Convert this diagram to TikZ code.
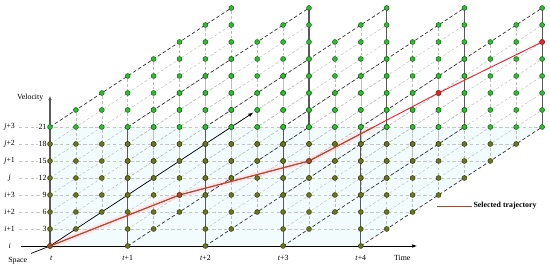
\documentclass[tikz,border=0pt]{standalone}
\usepackage{fontspec}
\setmainfont{Liberation Serif}
\usepackage{tikz}
\usetikzlibrary{arrows.meta}
\definecolor{dotgreen}{RGB}{45,190,45}
\definecolor{dotgreenline}{RGB}{25,100,25}
\definecolor{dotolive}{RGB}{105,120,30}
\definecolor{dotoliveline}{RGB}{55,65,15}
\definecolor{trajred}{RGB}{235,35,45}
\definecolor{trajbrown}{RGB}{165,80,40}
\definecolor{frontshade}{RGB}{243,252,252}
\definecolor{bandpink}{RGB}{253,230,238}

\begin{document}
\begin{tikzpicture}[x=0.777cm,y=0.51cm,>={Latex[length=4pt,width=3.2pt]},
  font=\fontsize{6.7}{8}\selectfont,
  grid/.style={gray!50,dash pattern=on 2.4pt off 1.8pt,line width=0.4pt},
  level/.style={gray!45,dash pattern=on 3pt off 2pt,line width=0.4pt},
  edge/.style={black!80,dash pattern=on 3pt off 2pt,line width=0.6pt},
  col/.style={black!65,line width=0.9pt},
  greendot/.style={fill=dotgreen,draw=dotgreenline,line width=0.45pt},
  olivedot/.style={fill=dotolive,draw=dotoliveline,line width=0.45pt},
  traj/.style={line width=0.8pt,line join=round}]
\useasboundingbox (-1.9305,-1.353) rectangle (19.305,14.47);
\coordinate (O) at (0,0);
% trajectory points
\coordinate (p0) at (0,0);
\coordinate (p1) at (5,3);
\coordinate (p2) at (10,5);
\coordinate (p3) at (15,9);
\coordinate (p4) at (19,12);
% shaded front band
\fill[frontshade] (0,0) -- (12,0) -- (19,7) -- (0,7) -- cycle;
\begin{scope}
\clip (0,0) -- (12,0) -- (19,7) -- (0,7) -- cycle;
\draw[bandpink,line width=5pt,line join=round] (p0) -- (p1) -- (p2) -- (p3);
\end{scope}
% velocity levels
\foreach \v in {1,...,7} \draw[level] (-1.2,\v) -- ({12+\v},\v);
% planes
\foreach \k in {0,...,4}{
  \foreach \s in {1,...,6} \draw[grid] ({3*\k+\s},\s) -- ++(0,7);
  \foreach \v in {1,...,6} \draw[grid] ({3*\k},\v) -- ++(7,7);
  \draw[edge] ({3*\k},7) -- ++(7,7);
}
\draw[grid] (7,7) -- (7,14);
\foreach \k in {1,...,4}{
  \draw[edge] ({3*\k},0) -- ++(7,7);
  \draw[col] ({3*\k},0) -- ++(0,7);
  \draw[col] ({3*\k+7},7) -- ++(0,7);
}
% axes
\coordinate (vtop) at (0,8.85);
\coordinate (tstart) at (-1.12,0);
\coordinate (tend) at (14.17,0);
\coordinate (send) at (7.84,7.84);
\node (spacelbl) at (-1.25,-0.88) {Space};
\draw[->,col] (O) -- (vtop);
\draw[->,black,line width=0.7pt] (tstart) -- (tend);
\draw[->,black,line width=0.6pt] (spacelbl.north east) -- (O) -- (send);
\node[anchor=east] (vellbl) at (-0.1,8.72) {Velocity};
\node (timelbl) at (13.6,-0.72) {Time};
% left labels
\node (lv0) at (-1.56,0) {\textit{i}};
\foreach \v/\name/\num in {1/\textit{i}+1/3,2/\textit{i}+2/6,3/\textit{i}+3/9,4/\textit{j}/12,5/\textit{j}+1/15,6/\textit{j}+2/18,7/\textit{j}+3/21}{
  \node (lv\v) at (-1.56,\v) {\name};
  \node[anchor=east,fill=white,inner sep=0.6pt] (num\v) at (-0.1,\v) {\num};
}
% time labels
\node (tl0) at (0.05,-0.72) {\textit{t}};
\foreach \k in {1,...,4} \node (tl\k) at ({3*\k},-0.72) {\textit{t}+\k};
% lattice points
\foreach \k in {0,...,4}
  \foreach \s in {0,...,7}
    \foreach \v in {0,...,7}{
      \pgfmathtruncatemacro\yy{\s+\v}
      \ifnum\yy<7
        \filldraw[olivedot] ({3*\k+\s},\yy) circle (2.1pt);
      \else
        \filldraw[greendot] ({3*\k+\s},\yy) circle (2.1pt);
      \fi
    }
% selected trajectory
\draw[traj,trajred] (p0) -- (p1) -- (p2) -- (p3) -- (p4);
\begin{scope}
\clip (0,0) -- (12,0) -- (19,7) -- (0,7) -- cycle;
\draw[traj,trajbrown] (p0) -- (p1) -- (p2) -- (p3) -- (p4);
\end{scope}
\foreach \p in {p0,p1,p2} \filldraw[fill=trajbrown,draw=trajbrown!60!black,line width=0.45pt] (\p) circle (2.1pt);
\foreach \p in {p3,p4} \filldraw[fill=trajred,draw=trajred!70!black,line width=0.45pt] (\p) circle (2.1pt);
% legend
\coordinate (legA) at (14.94,2.35);
\node[anchor=west,inner sep=1pt] (legtxt) at (16.3,2.35) {\textbf{Selected trajectory}};
\draw[traj,trajbrown!80!red] (legA) -- (legtxt.west);
\end{tikzpicture}
\end{document}
